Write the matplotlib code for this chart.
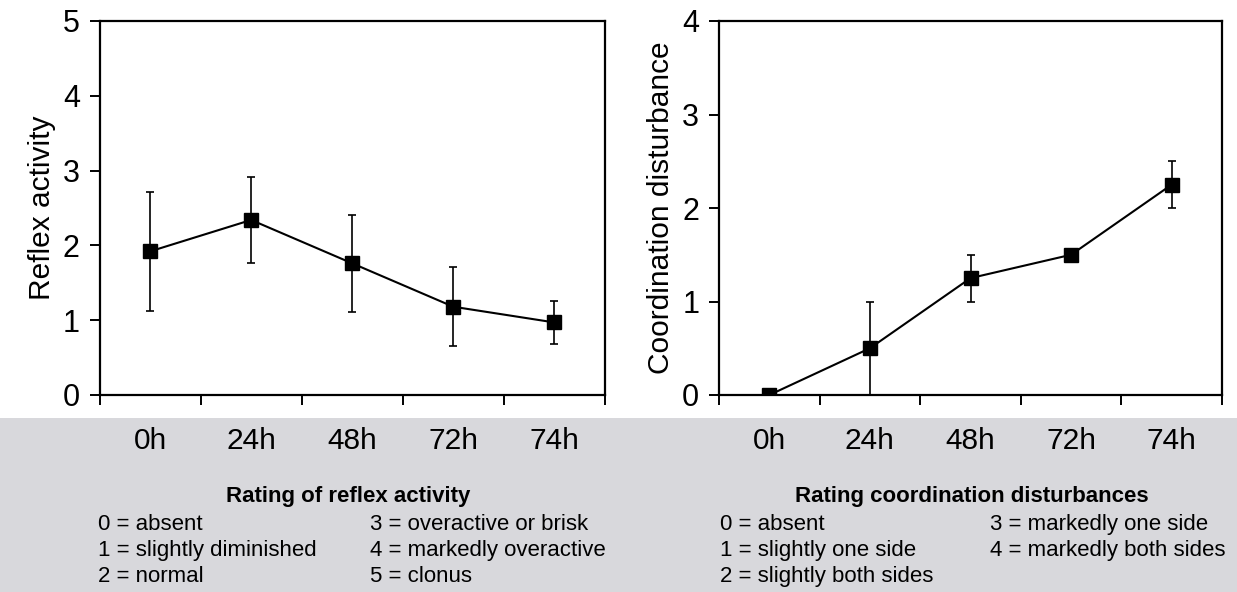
import matplotlib
matplotlib.use("Agg")
import matplotlib.pyplot as plt
from matplotlib.patches import Rectangle
import numpy as np

plt.rcParams['font.family'] = ['Liberation Sans', 'DejaVu Sans']

# ---- data ----
time_labels = ['0h', '24h', '48h', '72h', '74h']
reflex_mean = [1.92, 2.34, 1.76, 1.18, 0.97]
reflex_err = [0.80, 0.58, 0.65, 0.53, 0.29]
coord_mean = [0.0, 0.5, 1.25, 1.5, 2.25]
coord_err = [0.0, 0.5, 0.25, 0.0, 0.25]

reflex_title = 'Rating of reflex activity'
reflex_col1 = ['0 = absent', '1 = slightly diminished', '2 = normal']
reflex_col2 = ['3 = overactive or brisk', '4 = markedly overactive', '5 = clonus']
coord_title = 'Rating coordination disturbances'
coord_col1 = ['0 = absent', '1 = slightly one side', '2 = slightly both sides']
coord_col2 = ['3 = markedly one side', '4 = markedly both sides']

W, H = 1237, 592
fig = plt.figure(figsize=(W / 100, H / 100), dpi=100)
fig.patch.set_facecolor('white')

# scanned grey band behind the lower text
fig.patches.append(Rectangle((0, 0), 1, 1 - 418 / H, transform=fig.transFigure,
                             facecolor='#d8d8dc', edgecolor='none', zorder=-10))


def px(x, y):
    return x / W, 1 - y / H


def make_panel(rect, means, errs, ymax, ylabel):
    ax = fig.add_axes(rect)
    x = np.arange(len(time_labels))
    ax.errorbar(x, means, yerr=errs, color='black', lw=1.5, marker='s',
                markersize=9.5, ecolor='black', elinewidth=1.2, capsize=3,
                capthick=1.2, zorder=3)
    ax.set_xlim(-0.5, len(time_labels) - 0.5)
    ax.set_ylim(0, ymax)
    ax.set_yticks(range(0, ymax + 1))
    ax.set_xticks(np.arange(-0.5, len(time_labels), 1.0))
    ax.set_xticklabels([])
    ax.set_xticks(x, minor=True)
    ax.set_xticklabels(time_labels, minor=True)
    ax.tick_params(axis='x', which='major', direction='out', length=7.2, width=1.4)
    ax.tick_params(axis='x', which='minor', length=0, pad=23, labelsize=21.5)
    ax.tick_params(axis='y', direction='out', length=7.2, width=1.4,
                   labelsize=22, pad=7)
    for s in ax.spines.values():
        s.set_linewidth(1.6)
    ax.set_ylabel(ylabel, fontsize=21.5, labelpad=5)
    return ax


ax1 = make_panel([99.5 / W, 1 - 395 / H, (605 - 99.5) / W, (395 - 21) / H],
                 reflex_mean, reflex_err, 5, 'Reflex activity')
ax2 = make_panel([719 / W, 1 - 395 / H, (1222 - 719) / W, (395 - 21) / H],
                 coord_mean, coord_err, 4, 'Coordination disturbance')


def legend_block(title, cx, c1x, c2x, col1, col2):
    fig.text(*px(cx, 502), title, ha='center', va='baseline',
             fontsize=16, fontweight='bold')
    for i, t in enumerate(col1):
        fig.text(*px(c1x, 530 + 26 * i), t, ha='left', va='baseline', fontsize=16)
    for i, t in enumerate(col2):
        fig.text(*px(c2x, 530 + 26 * i), t, ha='left', va='baseline', fontsize=16)


legend_block(reflex_title, 348, 98, 370, reflex_col1, reflex_col2)
legend_block(coord_title, 972, 720, 990, coord_col1, coord_col2)

fig.savefig('out.png', dpi=100)
